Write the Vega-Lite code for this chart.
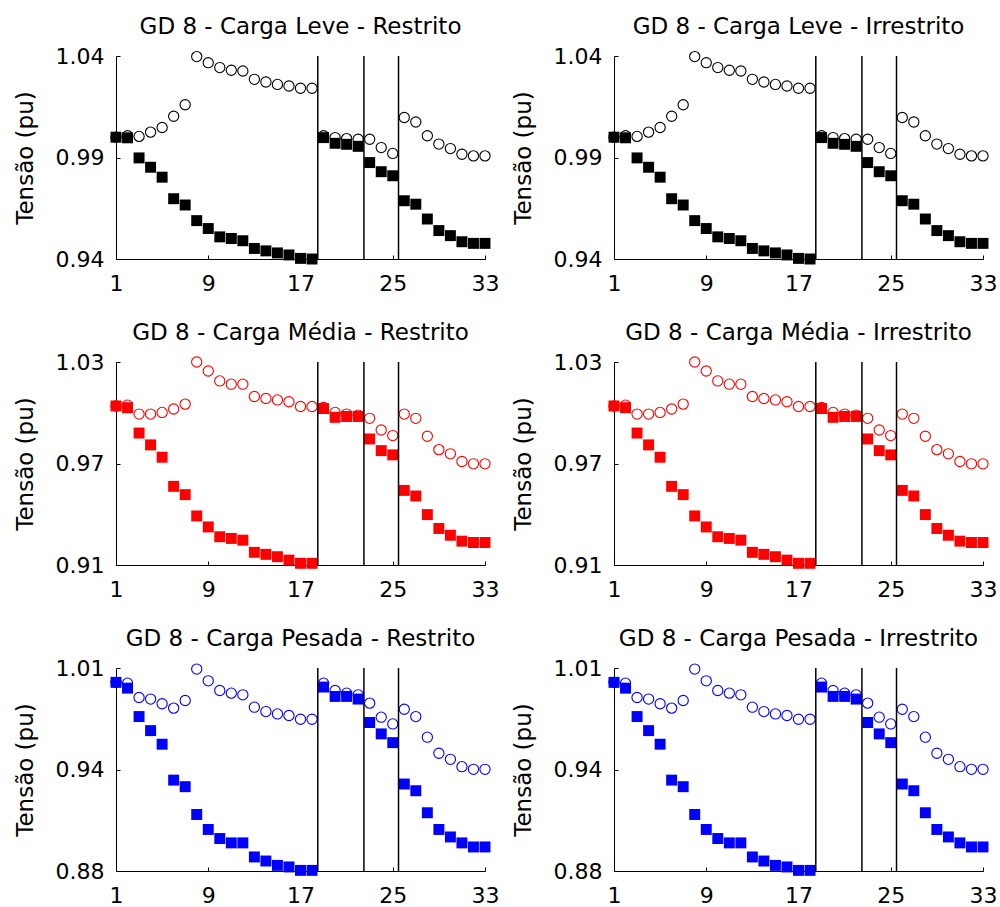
{
  "$schema": "https://vega.github.io/schema/vega-lite/v6.json",
  "background": "white",
  "padding": {"left": 14, "top": 16, "right": 5, "bottom": 5},
  "config": {
    "font": "DejaVu Sans",
    "view": {"stroke": null},
    "axis": {"domainColor": "#000", "domainWidth": 1, "tickColor": "#000", "tickWidth": 1, "tickSize": -4, "labelColor": "#000", "labelFontSize": 22, "labelPadding": 16, "titleColor": "#000", "titleFontSize": 23, "titleFontWeight": "normal", "titlePadding": 18, "grid": false, "labelFlush": false, "labelOverlap": false},
    "axisX": {"labelPadding": 18},
    "title": {"fontSize": 23, "fontWeight": "normal", "color": "#000", "offset": 6}
  },
  "datasets": {
    "div": [{"barra": 18.5}, {"barra": 22.5}, {"barra": 25.5}],
    "leve": [
      {"barra": 1, "semGD": 1.0, "comGD": 1.0},
      {"barra": 2, "semGD": 0.9997, "comGD": 1.0007},
      {"barra": 3, "semGD": 0.9898, "comGD": 1.0004},
      {"barra": 4, "semGD": 0.9852, "comGD": 1.0025},
      {"barra": 5, "semGD": 0.9803, "comGD": 1.0048},
      {"barra": 6, "semGD": 0.9697, "comGD": 1.0103},
      {"barra": 7, "semGD": 0.9666, "comGD": 1.016},
      {"barra": 8, "semGD": 0.9589, "comGD": 1.0397},
      {"barra": 9, "semGD": 0.955, "comGD": 1.0367},
      {"barra": 10, "semGD": 0.9509, "comGD": 1.0343},
      {"barra": 11, "semGD": 0.9501, "comGD": 1.033},
      {"barra": 12, "semGD": 0.949, "comGD": 1.0326},
      {"barra": 13, "semGD": 0.9452, "comGD": 1.0285},
      {"barra": 14, "semGD": 0.944, "comGD": 1.0272},
      {"barra": 15, "semGD": 0.943, "comGD": 1.026},
      {"barra": 16, "semGD": 0.942, "comGD": 1.0252},
      {"barra": 17, "semGD": 0.9403, "comGD": 1.0241},
      {"barra": 18, "semGD": 0.94, "comGD": 1.0241},
      {"barra": 19, "semGD": 0.9998, "comGD": 1.0007},
      {"barra": 20, "semGD": 0.997, "comGD": 0.9998},
      {"barra": 21, "semGD": 0.9965, "comGD": 0.9993},
      {"barra": 22, "semGD": 0.9955, "comGD": 0.999},
      {"barra": 23, "semGD": 0.9875, "comGD": 0.999},
      {"barra": 24, "semGD": 0.983, "comGD": 0.9949},
      {"barra": 25, "semGD": 0.981, "comGD": 0.992},
      {"barra": 26, "semGD": 0.9687, "comGD": 1.0097},
      {"barra": 27, "semGD": 0.967, "comGD": 1.0075},
      {"barra": 28, "semGD": 0.9597, "comGD": 1.0007},
      {"barra": 29, "semGD": 0.954, "comGD": 0.9966},
      {"barra": 30, "semGD": 0.9515, "comGD": 0.9944},
      {"barra": 31, "semGD": 0.9485, "comGD": 0.9916},
      {"barra": 32, "semGD": 0.9477, "comGD": 0.9908},
      {"barra": 33, "semGD": 0.9477, "comGD": 0.9908}
    ],
    "media": [
      {"barra": 1, "semGD": 1.004, "comGD": 1.004},
      {"barra": 2, "semGD": 1.003, "comGD": 1.0045},
      {"barra": 3, "semGD": 0.988, "comGD": 0.9992},
      {"barra": 4, "semGD": 0.981, "comGD": 0.9992},
      {"barra": 5, "semGD": 0.9737, "comGD": 1.0002},
      {"barra": 6, "semGD": 0.9565, "comGD": 1.0022},
      {"barra": 7, "semGD": 0.9516, "comGD": 1.0051},
      {"barra": 8, "semGD": 0.939, "comGD": 1.03},
      {"barra": 9, "semGD": 0.9325, "comGD": 1.0247},
      {"barra": 10, "semGD": 0.9267, "comGD": 1.0188},
      {"barra": 11, "semGD": 0.9257, "comGD": 1.0169},
      {"barra": 12, "semGD": 0.9247, "comGD": 1.0169},
      {"barra": 13, "semGD": 0.9175, "comGD": 1.0096},
      {"barra": 14, "semGD": 0.9163, "comGD": 1.0084},
      {"barra": 15, "semGD": 0.9149, "comGD": 1.0076},
      {"barra": 16, "semGD": 0.9129, "comGD": 1.0065},
      {"barra": 17, "semGD": 0.911, "comGD": 1.0037},
      {"barra": 18, "semGD": 0.911, "comGD": 1.0037},
      {"barra": 19, "semGD": 1.0025, "comGD": 1.0031},
      {"barra": 20, "semGD": 0.9973, "comGD": 1.0002},
      {"barra": 21, "semGD": 0.9978, "comGD": 0.9992},
      {"barra": 22, "semGD": 0.9978, "comGD": 0.9986},
      {"barra": 23, "semGD": 0.9845, "comGD": 0.9967},
      {"barra": 24, "semGD": 0.9776, "comGD": 0.9898},
      {"barra": 25, "semGD": 0.9751, "comGD": 0.9865},
      {"barra": 26, "semGD": 0.9541, "comGD": 0.9992},
      {"barra": 27, "semGD": 0.9508, "comGD": 0.9967},
      {"barra": 28, "semGD": 0.9398, "comGD": 0.9861},
      {"barra": 29, "semGD": 0.9316, "comGD": 0.9782},
      {"barra": 30, "semGD": 0.9276, "comGD": 0.9757},
      {"barra": 31, "semGD": 0.9241, "comGD": 0.9712},
      {"barra": 32, "semGD": 0.9233, "comGD": 0.9698},
      {"barra": 33, "semGD": 0.9233, "comGD": 0.9698}
    ],
    "pesada": [
      {"barra": 1, "semGD": 1.0008, "comGD": 1.0008},
      {"barra": 2, "semGD": 0.9971, "comGD": 1.0003},
      {"barra": 3, "semGD": 0.9789, "comGD": 0.9911},
      {"barra": 4, "semGD": 0.9699, "comGD": 0.9901},
      {"barra": 5, "semGD": 0.9612, "comGD": 0.9871},
      {"barra": 6, "semGD": 0.9382, "comGD": 0.9843},
      {"barra": 7, "semGD": 0.934, "comGD": 0.9892},
      {"barra": 8, "semGD": 0.9162, "comGD": 1.0093},
      {"barra": 9, "semGD": 0.9066, "comGD": 1.0018},
      {"barra": 10, "semGD": 0.9008, "comGD": 0.9956},
      {"barra": 11, "semGD": 0.898, "comGD": 0.9939},
      {"barra": 12, "semGD": 0.898, "comGD": 0.9928},
      {"barra": 13, "semGD": 0.889, "comGD": 0.9849},
      {"barra": 14, "semGD": 0.8864, "comGD": 0.9821},
      {"barra": 15, "semGD": 0.8836, "comGD": 0.9806},
      {"barra": 16, "semGD": 0.8826, "comGD": 0.9796},
      {"barra": 17, "semGD": 0.8804, "comGD": 0.9772},
      {"barra": 18, "semGD": 0.8804, "comGD": 0.9772},
      {"barra": 19, "semGD": 0.9978, "comGD": 1.0003},
      {"barra": 20, "semGD": 0.9918, "comGD": 0.9956},
      {"barra": 21, "semGD": 0.9918, "comGD": 0.9939},
      {"barra": 22, "semGD": 0.9901, "comGD": 0.9928},
      {"barra": 23, "semGD": 0.9751, "comGD": 0.9875},
      {"barra": 24, "semGD": 0.9678, "comGD": 0.9785},
      {"barra": 25, "semGD": 0.9622, "comGD": 0.9742},
      {"barra": 26, "semGD": 0.9357, "comGD": 0.9836},
      {"barra": 27, "semGD": 0.9314, "comGD": 0.9789},
      {"barra": 28, "semGD": 0.9173, "comGD": 0.9657},
      {"barra": 29, "semGD": 0.9066, "comGD": 0.9554},
      {"barra": 30, "semGD": 0.9018, "comGD": 0.9515},
      {"barra": 31, "semGD": 0.898, "comGD": 0.9468},
      {"barra": 32, "semGD": 0.8954, "comGD": 0.9451},
      {"barra": 33, "semGD": 0.8954, "comGD": 0.9451}
    ]
  },
  "columns": 2,
  "spacing": {"row": 28, "column": 13},
  "concat": [
    {
      "title": "GD 8 - Carga Leve - Restrito",
      "width": 369, "height": 203,
      "data": {"name": "leve"},
      "encoding": {"x": {"field": "barra", "type": "quantitative", "scale": {"domain": [1, 33], "nice": false, "zero": false}, "axis": {"values": [1, 9, 17, 25, 33], "title": null, "format": "d"}}},
      "layer": [
        {"mark": {"type": "point", "shape": "square", "filled": true, "color": "#000000", "size": 120, "opacity": 1}, "encoding": {"y": {"field": "semGD", "type": "quantitative", "title": "Tensão (pu)", "scale": {"domain": [0.94, 1.04], "nice": false, "zero": false}, "axis": {"values": [0.94, 0.99, 1.04], "format": ".2f"}}}},
        {"mark": {"type": "point", "shape": "circle", "filled": false, "color": "#000000", "size": 105, "strokeWidth": 1.1, "opacity": 1}, "encoding": {"y": {"field": "comGD", "type": "quantitative", "title": "Tensão (pu)"}}},
        {"data": {"name": "div"}, "mark": {"type": "rule", "color": "#000", "strokeWidth": 1.5}, "encoding": {}}
      ]
    },
    {
      "title": "GD 8 - Carga Leve - Irrestrito",
      "width": 369, "height": 203,
      "data": {"name": "leve"},
      "encoding": {"x": {"field": "barra", "type": "quantitative", "scale": {"domain": [1, 33], "nice": false, "zero": false}, "axis": {"values": [1, 9, 17, 25, 33], "title": null, "format": "d"}}},
      "layer": [
        {"mark": {"type": "point", "shape": "square", "filled": true, "color": "#000000", "size": 120, "opacity": 1}, "encoding": {"y": {"field": "semGD", "type": "quantitative", "title": "Tensão (pu)", "scale": {"domain": [0.94, 1.04], "nice": false, "zero": false}, "axis": {"values": [0.94, 0.99, 1.04], "format": ".2f"}}}},
        {"mark": {"type": "point", "shape": "circle", "filled": false, "color": "#000000", "size": 105, "strokeWidth": 1.1, "opacity": 1}, "encoding": {"y": {"field": "comGD", "type": "quantitative", "title": "Tensão (pu)"}}},
        {"data": {"name": "div"}, "mark": {"type": "rule", "color": "#000", "strokeWidth": 1.5}, "encoding": {}}
      ]
    },
    {
      "title": "GD 8 - Carga Média - Restrito",
      "width": 369, "height": 203,
      "data": {"name": "media"},
      "encoding": {"x": {"field": "barra", "type": "quantitative", "scale": {"domain": [1, 33], "nice": false, "zero": false}, "axis": {"values": [1, 9, 17, 25, 33], "title": null, "format": "d"}}},
      "layer": [
        {"mark": {"type": "point", "shape": "square", "filled": true, "color": "#ff0000", "size": 120, "opacity": 1}, "encoding": {"y": {"field": "semGD", "type": "quantitative", "title": "Tensão (pu)", "scale": {"domain": [0.91, 1.03], "nice": false, "zero": false}, "axis": {"values": [0.91, 0.97, 1.03], "format": ".2f"}}}},
        {"mark": {"type": "point", "shape": "circle", "filled": false, "color": "#ff0000", "size": 105, "strokeWidth": 1.1, "opacity": 1}, "encoding": {"y": {"field": "comGD", "type": "quantitative", "title": "Tensão (pu)"}}},
        {"data": {"name": "div"}, "mark": {"type": "rule", "color": "#000", "strokeWidth": 1.5}, "encoding": {}}
      ]
    },
    {
      "title": "GD 8 - Carga Média - Irrestrito",
      "width": 369, "height": 203,
      "data": {"name": "media"},
      "encoding": {"x": {"field": "barra", "type": "quantitative", "scale": {"domain": [1, 33], "nice": false, "zero": false}, "axis": {"values": [1, 9, 17, 25, 33], "title": null, "format": "d"}}},
      "layer": [
        {"mark": {"type": "point", "shape": "square", "filled": true, "color": "#ff0000", "size": 120, "opacity": 1}, "encoding": {"y": {"field": "semGD", "type": "quantitative", "title": "Tensão (pu)", "scale": {"domain": [0.91, 1.03], "nice": false, "zero": false}, "axis": {"values": [0.91, 0.97, 1.03], "format": ".2f"}}}},
        {"mark": {"type": "point", "shape": "circle", "filled": false, "color": "#ff0000", "size": 105, "strokeWidth": 1.1, "opacity": 1}, "encoding": {"y": {"field": "comGD", "type": "quantitative", "title": "Tensão (pu)"}}},
        {"data": {"name": "div"}, "mark": {"type": "rule", "color": "#000", "strokeWidth": 1.5}, "encoding": {}}
      ]
    },
    {
      "title": "GD 8 - Carga Pesada - Restrito",
      "width": 369, "height": 203,
      "data": {"name": "pesada"},
      "encoding": {"x": {"field": "barra", "type": "quantitative", "scale": {"domain": [1, 33], "nice": false, "zero": false}, "axis": {"values": [1, 9, 17, 25, 33], "title": null, "format": "d"}}},
      "layer": [
        {"mark": {"type": "point", "shape": "square", "filled": true, "color": "#0000ff", "size": 120, "opacity": 1}, "encoding": {"y": {"field": "semGD", "type": "quantitative", "title": "Tensão (pu)", "scale": {"domain": [0.88, 1.01], "nice": false, "zero": false}, "axis": {"values": [0.88, 0.945, 1.01], "format": ".2f"}}}},
        {"mark": {"type": "point", "shape": "circle", "filled": false, "color": "#0000ff", "size": 105, "strokeWidth": 1.1, "opacity": 1}, "encoding": {"y": {"field": "comGD", "type": "quantitative", "title": "Tensão (pu)"}}},
        {"data": {"name": "div"}, "mark": {"type": "rule", "color": "#000", "strokeWidth": 1.5}, "encoding": {}}
      ]
    },
    {
      "title": "GD 8 - Carga Pesada - Irrestrito",
      "width": 369, "height": 203,
      "data": {"name": "pesada"},
      "encoding": {"x": {"field": "barra", "type": "quantitative", "scale": {"domain": [1, 33], "nice": false, "zero": false}, "axis": {"values": [1, 9, 17, 25, 33], "title": null, "format": "d"}}},
      "layer": [
        {"mark": {"type": "point", "shape": "square", "filled": true, "color": "#0000ff", "size": 120, "opacity": 1}, "encoding": {"y": {"field": "semGD", "type": "quantitative", "title": "Tensão (pu)", "scale": {"domain": [0.88, 1.01], "nice": false, "zero": false}, "axis": {"values": [0.88, 0.945, 1.01], "format": ".2f"}}}},
        {"mark": {"type": "point", "shape": "circle", "filled": false, "color": "#0000ff", "size": 105, "strokeWidth": 1.1, "opacity": 1}, "encoding": {"y": {"field": "comGD", "type": "quantitative", "title": "Tensão (pu)"}}},
        {"data": {"name": "div"}, "mark": {"type": "rule", "color": "#000", "strokeWidth": 1.5}, "encoding": {}}
      ]
    }
  ]
}
